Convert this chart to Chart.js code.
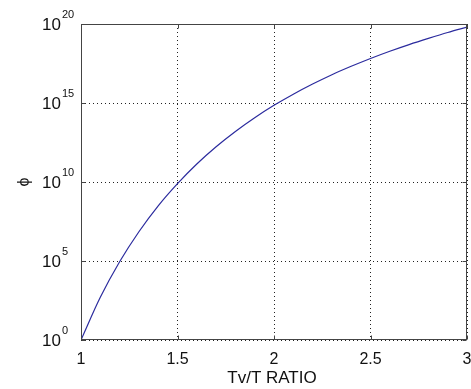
<!DOCTYPE html>
<html>
<head>
<meta charset="utf-8">
<script src="https://cdn.jsdelivr.net/npm/chart.js@4"></script>
<style>
  html, body { margin: 0; padding: 0; background: #fff; }
</style>
</head>
<body>
<canvas id="phiChart" width="471" height="389"></canvas>
<script>
// Tv/T ratio (x) and phi (y, log scale)
const ratioValues = [1.0, 1.1, 1.2, 1.3, 1.4, 1.5, 1.6, 1.7, 1.8, 1.9, 2.0,
                     2.1, 2.2, 2.3, 2.4, 2.5, 2.6, 2.7, 2.8, 2.9, 3.0];
const phiValues = [1, 5.0e2, 8.9e4, 7.1e6, 3.1e8, 7.9e9, 1.38e11, 1.7e12, 1.58e13, 1.17e14, 7.1e14,
                   3.6e15, 1.58e16, 6.2e16, 2.1e17, 6.6e17, 1.9e18, 5.0e18, 1.23e19, 2.9e19, 6.3e19];

// tick positions and labels
const xTickValues = [1, 1.5, 2, 2.5, 3];
const yTickValues = [1, 1e5, 1e10, 1e15, 1e20];
const yTickExponents = ["0", "5", "10", "15", "20"];
const xAxisTitle = "Tv/T RATIO";

const FONT = "'Liberation Sans', Arial, Helvetica, sans-serif";

// box around the plot, inward tick marks, 10^n labels and x title (like matlab)
const axesBoxPlugin = {
  id: "axesBox",
  afterDraw(chart) {
    const ctx = chart.ctx;
    const area = chart.chartArea;
    const xs = chart.scales.x;
    const ys = chart.scales.y;
    const L = Math.round(area.left) + 0.5, R = Math.round(area.right) - 0.5;
    const T = Math.round(area.top) + 0.5, B = Math.round(area.bottom) - 0.5;

    ctx.save();
    ctx.strokeStyle = "#444";
    ctx.lineWidth = 1;
    ctx.setLineDash([]);
    ctx.strokeRect(L, T, R - L, B - T);

    ctx.beginPath();
    xTickValues.forEach(v => {
      const px = Math.round(xs.getPixelForValue(v)) + 0.5;
      ctx.moveTo(px, B); ctx.lineTo(px, B - 4);
      ctx.moveTo(px, T); ctx.lineTo(px, T + 4);
    });
    yTickValues.forEach(v => {
      const py = Math.round(ys.getPixelForValue(v)) + 0.5;
      ctx.moveTo(L, py); ctx.lineTo(L + 4, py);
      ctx.moveTo(R, py); ctx.lineTo(R - 4, py);
    });
    ctx.stroke();

    // y labels: "10" with a raised exponent
    ctx.fillStyle = "#111";
    ctx.textBaseline = "middle";
    yTickValues.forEach((v, i) => {
      const py = ys.getPixelForValue(v);
      ctx.font = "17px " + FONT;
      ctx.textAlign = "right";
      ctx.fillText("10", 61, py + 1);
      ctx.font = "11px " + FONT;
      ctx.textAlign = "left";
      ctx.fillText(yTickExponents[i], 62, py - 9);
    });

    // x axis title
    ctx.font = "17px " + FONT;
    ctx.textAlign = "center";
    ctx.textBaseline = "alphabetic";
    ctx.fillText(xAxisTitle, (area.left + area.right) / 2 - 2, 383);
    ctx.restore();
  }
};

const ctx = document.getElementById("phiChart").getContext("2d");

new Chart(ctx, {
  type: "line",
  data: {
    datasets: [{
      data: ratioValues.map((x, i) => ({ x: x, y: phiValues[i] })),
      borderColor: "#2b2b9e",
      borderWidth: 1.2,
      pointRadius: 0,
      cubicInterpolationMode: "monotone",
      fill: false
    }]
  },
  options: {
    responsive: false,
    animation: false,
    layout: { padding: { top: 24, right: 4, left: 0, bottom: 0 } },
    plugins: {
      legend: { display: false },
      tooltip: { enabled: false }
    },
    scales: {
      x: {
        type: "linear",
        min: 1,
        max: 3,
        afterBuildTicks: scale => { scale.ticks = xTickValues.map(v => ({ value: v })); },
        afterFit: scale => {
          scale.height = 49;
          scale.paddingLeft = 0;   // let the "3" label hang over the right edge
          scale.paddingRight = 0;
        },
        ticks: {
          color: "#111",
          font: { family: FONT, size: 16 },
          padding: 10,
          maxRotation: 0,
          callback: v => String(v)
        },
        grid: { color: "#222", lineWidth: 1, drawTicks: false },
        border: { display: false, dash: [1, 3] }
      },
      y: {
        type: "logarithmic",
        min: 1,
        max: 1e20,
        afterBuildTicks: scale => { scale.ticks = yTickValues.map(v => ({ value: v })); },
        afterFit: scale => { scale.width = 81; },
        ticks: { display: false },
        grid: { color: "#222", lineWidth: 1, drawTicks: false },
        border: { display: false, dash: [1, 3] },
        title: {
          display: true,
          text: "ϕ",
          color: "#111",
          font: { family: FONT, size: 16 },
          padding: { top: 15, bottom: 0 }
        }
      }
    }
  },
  plugins: [axesBoxPlugin]
});
</script>
</body>
</html>
